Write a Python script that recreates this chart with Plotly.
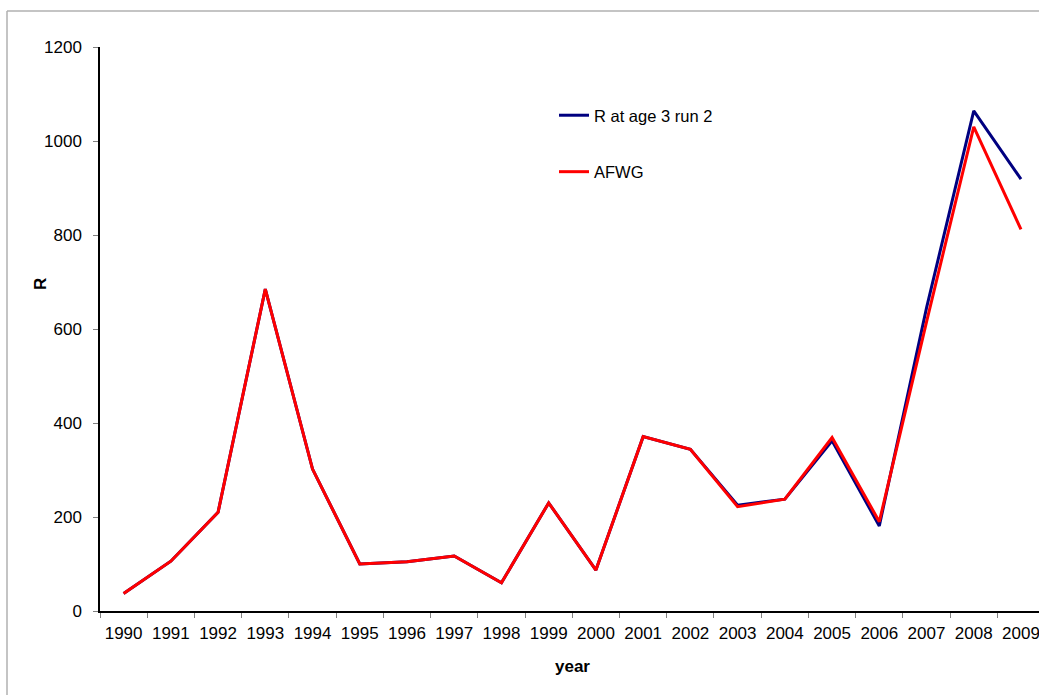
import plotly.graph_objects as go

years = [str(y) for y in range(1990, 2010)]
r_age3_run2 = [37, 106, 210, 685, 302, 100, 105, 117, 60, 230, 87, 371, 344, 225, 238, 362, 181, 645, 1064, 919]
afwg = [37, 106, 210, 685, 302, 100, 105, 117, 60, 230, 87, 371, 344, 222, 238, 369, 190, 615, 1030, 812]
y_ticks = [0, 200, 400, 600, 800, 1000, 1200]

W, H = 1039, 695
L, R, T, B = 100, 0, 47, 84
PW, PH = W - L - R, H - T - B
FONT = "Liberation Sans, Arial, sans-serif"

fig = go.Figure()
fig.add_trace(go.Scatter(x=years, y=r_age3_run2, mode="lines", name="R at age 3 run 2",
                         line=dict(color="#000080", width=3), legendgroup="a"))
fig.add_trace(go.Scatter(x=years, y=afwg, mode="lines", name="AFWG",
                         line=dict(color="#FF0000", width=3), legendgroup="b"))

cat_px = 47.23
x_end = -0.5 + PW / cat_px

fig.update_layout(
    width=W, height=H,
    margin=dict(l=L, r=R, t=T, b=B, pad=0),
    paper_bgcolor="white", plot_bgcolor="white",
    font=dict(family=FONT, size=17, color="black"),
    showlegend=True,
    legend=dict(x=(554 - L) / PW, y=1 - (98 - T) / PH, xanchor="left", yanchor="top",
                bgcolor="rgba(0,0,0,0)", borderwidth=0, font=dict(size=16.5),
                traceorder="grouped", tracegroupgap=32),
    xaxis=dict(type="category", range=[-0.5, x_end], tickson="boundaries",
               ticks="outside", ticklen=5, tickcolor="#808080", tickwidth=1,
               showline=True, linecolor="black", linewidth=1.5, showgrid=False,
               zeroline=False, fixedrange=True, ticklabelstandoff=6),
    yaxis=dict(range=[0, 1200], tickvals=y_ticks, ticks="outside", ticklen=5,
               tickcolor="#808080", tickwidth=1, showline=True, linecolor="black",
               linewidth=1.5, showgrid=False, zeroline=False, ticklabelstandoff=8),
    annotations=[
        dict(text="<b>R</b>", xref="paper", yref="paper", x=(40 - L) / PW, y=(611 - 284) / PH,
             textangle=-90, showarrow=False, xanchor="center", yanchor="middle",
             font=dict(size=17)),
        dict(text="<b>year</b>", xref="x", yref="paper", x=9.5, y=(611 - 666) / PH,
             showarrow=False, xanchor="center", yanchor="middle", font=dict(size=17)),
    ],
    shapes=[
        dict(type="line", xref="paper", yref="paper", x0=(7 - L) / PW, x1=(W + 5 - L) / PW,
             y0=(611 - 11) / PH, y1=(611 - 11) / PH, line=dict(color="#B0B0B0", width=1.5)),
        dict(type="line", xref="paper", yref="paper", x0=(7 - L) / PW, x1=(7 - L) / PW,
             y0=(611 - 11) / PH, y1=(611 - H - 5) / PH, line=dict(color="#B0B0B0", width=1.5)),
    ],
)

fig.write_html("out.html", config={"displayModeBar": False},
               post_script="document.body.style.margin='0';document.body.style.overflow='hidden';")
